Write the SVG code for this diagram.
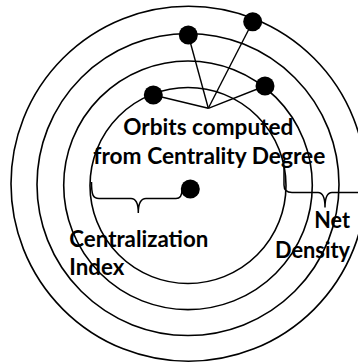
<svg xmlns="http://www.w3.org/2000/svg" width="358" height="363" viewBox="0 0 358 363">
<style>
.orbit{fill:none;stroke:#000;stroke-width:1.6}
.dot{fill:#000}
.link{stroke:#000;stroke-width:1.4;fill:none}
.brace{stroke:#000;stroke-width:1.5;fill:none}
.lbl{font-family:Lato,"Open Sans","Liberation Sans",sans-serif;font-weight:bold;font-size:23px;fill:#000}
</style>
<rect width="358" height="363" fill="#fff"/>
<g id="orbits">
<circle class="orbit" cx="188.5" cy="183.8" r="177.5"/>
<circle class="orbit" cx="188" cy="184.5" r="151"/>
<circle class="orbit" cx="188" cy="185.3" r="124.3"/>
<circle class="orbit" cx="188" cy="185.5" r="98"/>
</g>
<g id="connectors">
<line class="link" x1="208.3" y1="108.3" x2="153.3" y2="95"/>
<line class="link" x1="208.3" y1="108.3" x2="188.3" y2="35"/>
<line class="link" x1="208.3" y1="108.3" x2="252.7" y2="21.7"/>
<line class="link" x1="208.3" y1="108.3" x2="265" y2="86"/>
<path class="brace" d="M91.5,182 C91.5,195 93,198.5 99,198.5 L131,198.5 C136,198.5 138.3,203 138.3,213 C138.3,203 141,198.5 146,198.5 L176,198.5 C180,198.5 182,196 182,190"/>
<path class="brace" d="M284,166 L284,185 C284,190 287,192.5 292,192.5 L318,192.5 C323,192.5 325,197 325,207.5 C325,197 327,192.5 332,192.5 L366,192.5"/>
</g>
<g id="node-outer"><circle class="dot" cx="252.7" cy="21.7" r="9.5"/></g>
<g id="node-third"><circle class="dot" cx="188.3" cy="35" r="9.5"/></g>
<g id="node-second"><circle class="dot" cx="265" cy="86" r="9.5"/></g>
<g id="node-inner"><circle class="dot" cx="153.3" cy="95" r="9.5"/></g>
<g id="node-center"><circle class="dot" cx="190.3" cy="189" r="9.5"/></g>
<g id="labels">
<text class="lbl" x="123.3" y="135" textLength="170" lengthAdjust="spacingAndGlyphs">Orbits computed</text>
<text class="lbl" x="93.3" y="163.5" textLength="232" lengthAdjust="spacingAndGlyphs">from Centrality Degree</text>
<text class="lbl" x="69.3" y="246.7" textLength="139" lengthAdjust="spacingAndGlyphs">Centralization</text>
<text class="lbl" x="69.3" y="275" textLength="55" lengthAdjust="spacingAndGlyphs">Index</text>
<text class="lbl" x="314.3" y="228.3" textLength="35.7" lengthAdjust="spacingAndGlyphs">Net</text>
<text class="lbl" x="275" y="258.3" textLength="75" lengthAdjust="spacingAndGlyphs">Density</text>
</g>
</svg>
